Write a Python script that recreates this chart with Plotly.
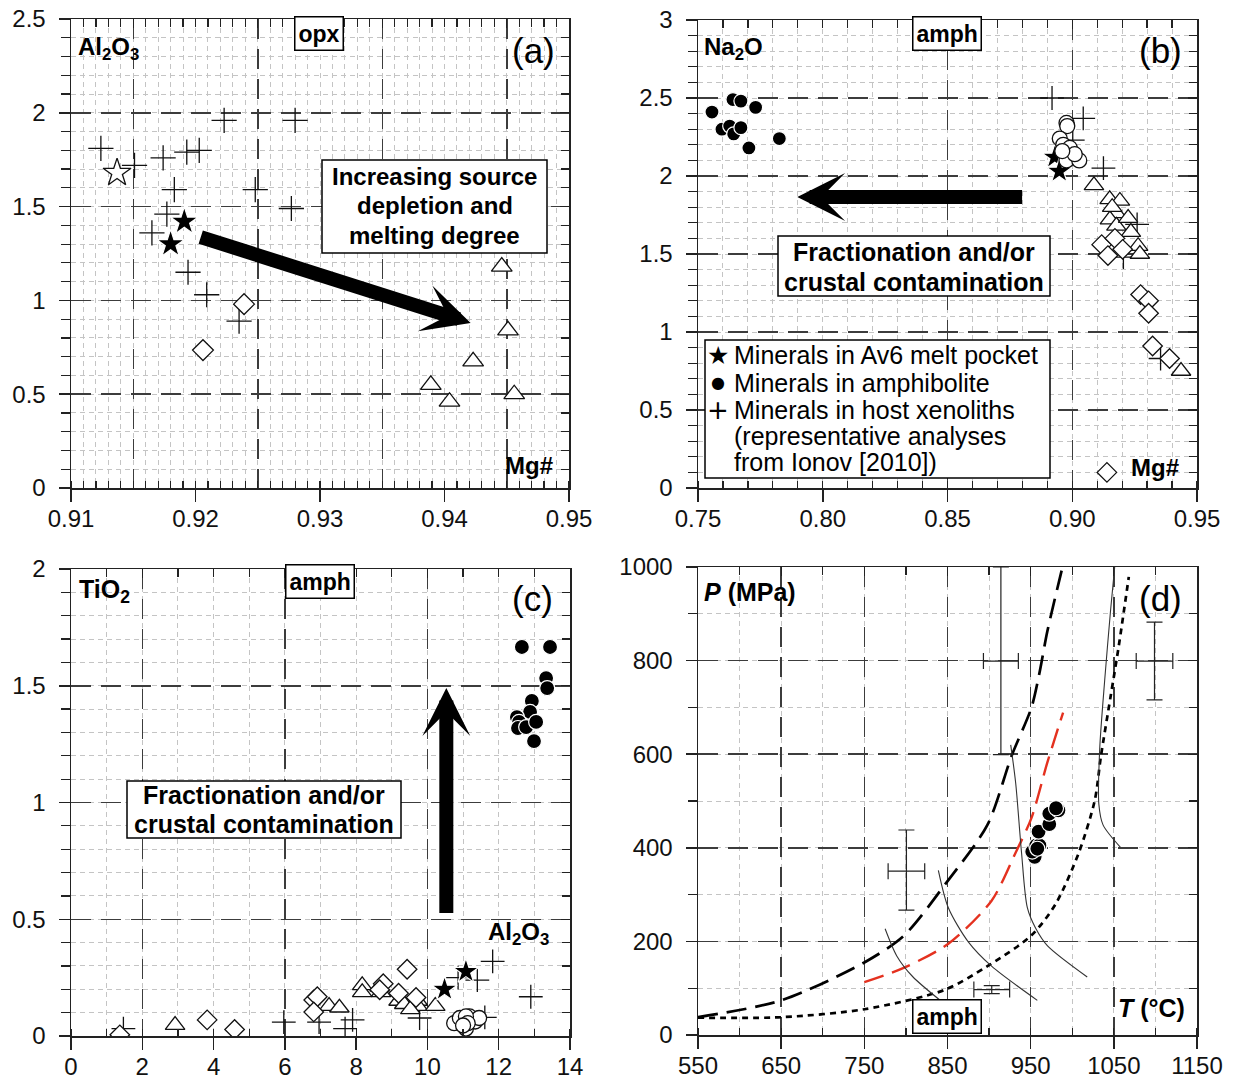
import plotly.graph_objects as go

W, H = 1233, 1082
FONT = "Liberation Sans, Arial, Helvetica, sans-serif"
SYMFONT = "DejaVu Sans, Liberation Sans, sans-serif"
LINE = "#222222"
MAJ_GRID = "#3c3c3c"
MIN_GRID = "#c4c4c4"
MAJ_DASH = "20px,10px"
MIN_DASH = "5px,4px"

# ---------------- data: panel (a) opx, Al2O3 vs Mg# ----------------
a_host_x = [0.9124, 0.9151, 0.9174, 0.9183, 0.9177, 0.9165, 0.9193, 0.9203, 0.9194, 0.9209, 0.9223, 0.9248, 0.9280, 0.9277, 0.9235]
a_host_y = [1.81, 1.72, 1.76, 1.59, 1.46, 1.36, 1.79, 1.80, 1.15, 1.03, 1.96, 1.59, 1.96, 1.49, 0.89]
a_melt_x = [0.9191, 0.9180]
a_melt_y = [1.42, 1.30]
a_ostar_x = [0.9137]
a_ostar_y = [1.68]
a_diam_x = [0.9239, 0.9206]
a_diam_y = [0.98, 0.735]
a_tri_x = [0.9446, 0.9451, 0.9423, 0.9389, 0.9404, 0.9456]
a_tri_y = [1.18, 0.84, 0.675, 0.55, 0.46, 0.50]

# ---------------- data: panel (b) amph, Na2O vs Mg# ----------------
b_amphib_x = [0.7556, 0.7596, 0.7640, 0.7672, 0.7627, 0.7643, 0.7672, 0.7731, 0.7704, 0.7826]
b_amphib_y = [2.41, 2.30, 2.49, 2.48, 2.32, 2.27, 2.31, 2.44, 2.18, 2.24]
b_ocirc_x = [0.8977, 0.8980, 0.8950, 0.8964, 0.8990, 0.8977, 0.9028, 0.9010, 0.8960]
b_ocirc_y = [2.34, 2.32, 2.24, 2.20, 2.18, 2.10, 2.10, 2.14, 2.16]
b_melt_x = [0.8930, 0.8948]
b_melt_y = [2.12, 2.03]
b_host_x = [0.8919, 0.9044, 0.9002, 0.9125, 0.9260, 0.9205, 0.9354]
b_host_y = [2.50, 2.37, 2.23, 2.05, 1.69, 1.48, 0.83]
b_tri_x = [0.9087, 0.9150, 0.9191, 0.9177, 0.9151, 0.9177, 0.9224, 0.9235, 0.9264, 0.9271, 0.9160, 0.9436]
b_tri_y = [1.94, 1.85, 1.84, 1.76, 1.72, 1.68, 1.73, 1.64, 1.55, 1.50, 1.80, 0.75]
b_diam_x = [0.9118, 0.9143, 0.9171, 0.9202, 0.9274, 0.9306, 0.9306, 0.9322, 0.9390, 0.9139]
b_diam_y = [1.56, 1.49, 1.60, 1.53, 1.24, 1.20, 1.12, 0.91, 0.83, 0.10]

# ---------------- data: panel (c) amph, TiO2 vs Al2O3 ----------------
c_amphib_x = [12.65, 13.44, 13.33, 13.36, 12.93, 12.88, 12.51, 12.57, 12.54, 12.77, 12.99, 13.05]
c_amphib_y = [1.666, 1.666, 1.533, 1.49, 1.435, 1.388, 1.366, 1.345, 1.319, 1.323, 1.263, 1.345]
c_ocirc_x = [10.75, 10.91, 11.08, 11.18, 11.34, 11.45, 11.08, 11.13, 11.00]
c_ocirc_y = [0.055, 0.077, 0.032, 0.084, 0.062, 0.077, 0.084, 0.055, 0.045]
c_melt_x = [10.48, 11.08]
c_melt_y = [0.20, 0.276]
c_host_x = [1.47, 5.97, 6.96, 7.69, 7.90, 9.78, 11.40, 11.83, 12.90, 11.61, 10.86]
c_host_y = [0.032, 0.059, 0.059, 0.032, 0.069, 0.077, 0.239, 0.320, 0.168, 0.08, 0.25]
c_diam_x = [1.37, 3.82, 4.59, 6.81, 6.91, 6.81, 8.76, 8.66, 9.43, 9.19, 9.68]
c_diam_y = [0.005, 0.069, 0.028, 0.154, 0.168, 0.103, 0.224, 0.198, 0.286, 0.183, 0.165]
c_tri_x = [2.92, 7.24, 7.53, 8.17, 8.17, 8.66, 9.19, 9.35, 9.73, 9.73, 10.22, 9.52, 8.70]
c_tri_y = [0.047, 0.128, 0.121, 0.217, 0.187, 0.21, 0.150, 0.136, 0.150, 0.128, 0.128, 0.114, 0.187]

# ---------------- data: panel (d) P-T ----------------
d_amphib_T = [954.8, 951.9, 956.7, 960.5, 959.5, 972.4, 972.4, 983.4, 980.5, 958.0]
d_amphib_P = [380.7, 391.8, 405, 405, 434.5, 450.7, 472.8, 480, 484.5, 398]
d_long_T = [550, 650, 750, 798, 848, 898, 927, 951, 960.5, 970, 988]
d_long_P = [38, 74, 155, 213, 324, 449, 596, 700, 773, 862, 998]
d_short_T = [550, 650, 750, 846, 898, 951, 980, 1008, 1027, 1034.5, 1046, 1056, 1068]
d_short_P = [37, 38, 55, 96, 147, 213, 280, 390, 501, 596, 722, 832, 979]
d_red_T = [750, 798, 851, 903, 932, 951, 970, 989]
d_red_P = [113, 144, 195, 287, 390, 464, 582, 689]
d_thin1_T = [775, 789, 808, 844]
d_thin1_P = [227, 169, 125, 70]
d_thin2_T = [839, 851, 875, 903, 958]
d_thin2_P = [352, 272, 199, 147, 74]
d_thin3_T = [926, 932, 939, 946, 956, 970, 1018]
d_thin3_P = [620, 538, 390, 272, 228, 191, 124]
d_thin4_T = [1051, 1046, 1039, 1033, 1032, 1037, 1058]
d_thin4_P = [1000, 906, 758, 611, 493, 449, 401]
d_err_T = [800.6, 914.2, 1098.9, 903.2]
d_err_P = [350, 799, 799, 97]
d_err_dT = [22, 21, 22, 21.5]
d_err_dPplus = [88, 201, 83, 8.6]
d_err_dPminus = [83, 200, 83, 8.6]

# ---------------- tick labels ----------------
a_xticks = [0.91, 0.92, 0.93, 0.94, 0.95]
a_xtext = ["0.91", "0.92", "0.93", "0.94", "0.95"]
a_yticks = [0, 0.5, 1, 1.5, 2, 2.5]
a_ytext = ["0", "0.5", "1", "1.5", "2", "2.5"]
b_xticks = [0.75, 0.80, 0.85, 0.90, 0.95]
b_xtext = ["0.75", "0.80", "0.85", "0.90", "0.95"]
b_yticks = [0, 0.5, 1, 1.5, 2, 2.5, 3]
b_ytext = ["0", "0.5", "1", "1.5", "2", "2.5", "3"]
c_xticks = [0, 2, 4, 6, 8, 10, 12, 14]
c_xtext = ["0", "2", "4", "6", "8", "10", "12", "14"]
c_yticks = [0, 0.5, 1, 1.5, 2]
c_ytext = ["0", "0.5", "1", "1.5", "2"]
d_xticks = [550, 650, 750, 850, 950, 1050, 1150]
d_xtext = ["550", "650", "750", "850", "950", "1050", "1150"]
d_yticks = [0, 200, 400, 600, 800, 1000]
d_ytext = ["0", "200", "400", "600", "800", "1000"]

legend_entries = ["Minerals in Av6 melt pocket", "Minerals in amphibolite", "Minerals in host xenoliths",
                  "(representative analyses", "from Ionov [2010])"]
legend_symbols = ["★", "●", "+", "", ""]


def dom_x(p0, p1):
    return [p0 / W, p1 / W]


def dom_y(top, bottom):
    return [1 - bottom / H, 1 - top / H]


TICKFONT = dict(family=FONT, size=24, color="#111111")


def main_x(domain, rng, vals, texts, mdt, mt0, anchor):
    return dict(domain=domain, range=rng, anchor=anchor, tickmode="array", tickvals=vals, ticktext=texts,
                ticks="outside", ticklen=12, tickwidth=1.5, tickcolor=LINE, automargin=False,
                showline=True, linecolor=LINE, linewidth=1.5, showgrid=False, zeroline=False,
                tickfont=TICKFONT, ticklabelstandoff=-3, fixedrange=True,
                minor=dict(tickmode="linear", tick0=mt0, dtick=mdt, ticks="inside", ticklen=7,
                           tickwidth=1.2, tickcolor=LINE, showgrid=True, gridcolor=MIN_GRID,
                           gridwidth=1, griddash=MIN_DASH))


def main_y(domain, rng, vals, texts, mdt, mt0, anchor):
    return dict(domain=domain, range=rng, anchor=anchor, tickmode="array", tickvals=vals, ticktext=texts,
                ticks="outside", ticklen=11, tickwidth=1.5, tickcolor=LINE, automargin=False,
                showline=True, linecolor=LINE, linewidth=1.5, showgrid=True, gridcolor=MAJ_GRID,
                gridwidth=1.5, griddash=MAJ_DASH, zeroline=False,
                tickfont=TICKFONT, ticklabelstandoff=8, fixedrange=True,
                minor=dict(tickmode="linear", tick0=mt0, dtick=mdt, ticks="outside", ticklen=9,
                           tickwidth=1.2, tickcolor=LINE, showgrid=True, gridcolor=MIN_GRID,
                           gridwidth=1, griddash=MIN_DASH))


def top_x(domain, rng, gridvals, mdt, mt0, overlay, anchor):
    return dict(domain=domain, range=rng, overlaying=overlay, side="top", anchor=anchor,
                tickmode="array", tickvals=gridvals, ticks="inside", ticklen=9, tickwidth=1.2,
                tickcolor=LINE, showticklabels=False, showline=True, linecolor=LINE, linewidth=1.5,
                showgrid=True, gridcolor=MAJ_GRID, gridwidth=1.5, griddash=MAJ_DASH,
                zeroline=False, fixedrange=True, automargin=False,
                minor=dict(tickmode="linear", tick0=mt0, dtick=mdt, ticks="inside", ticklen=8,
                           tickwidth=1.2, tickcolor=LINE, showgrid=False))


def right_y(domain, rng, vals, mdt, mt0, overlay, anchor):
    return dict(domain=domain, range=rng, overlaying=overlay, side="right", anchor=anchor,
                tickmode="array", tickvals=vals, ticks="inside", ticklen=9, tickwidth=1.2,
                tickcolor=LINE, showticklabels=False, showline=True, linecolor=LINE, linewidth=1.5,
                showgrid=False, zeroline=False, fixedrange=True, automargin=False,
                minor=dict(tickmode="linear", tick0=mt0, dtick=mdt, ticks="inside", ticklen=8,
                           tickwidth=1.2, tickcolor=LINE, showgrid=False))


dA_x, dA_y = dom_x(71, 569), dom_y(19, 488)
dB_x, dB_y = dom_x(698, 1197), dom_y(20, 488)
dC_x, dC_y = dom_x(71, 570), dom_y(569, 1036)
dD_x, dD_y = dom_x(698, 1197), dom_y(567, 1035)

layout_axes = dict(
    xaxis=main_x(dA_x, [0.91, 0.95], a_xticks, a_xtext, 0.001, 0.91, "y"),
    yaxis=main_y(dA_y, [0, 2.5], a_yticks, a_ytext, 0.1, 0, "x"),
    xaxis5=top_x(dA_x, [0.91, 0.95], [0.915, 0.925, 0.935, 0.945], 0.001, 0.91, "x", "y"),
    yaxis5=right_y(dA_y, [0, 2.5], a_yticks, 0.1, 0, "y", "x"),

    xaxis2=main_x(dB_x, [0.75, 0.95], b_xticks, b_xtext, 0.01, 0.75, "y2"),
    yaxis2=main_y(dB_y, [0, 3], b_yticks, b_ytext, 0.1, 0, "x2"),
    xaxis6=top_x(dB_x, [0.75, 0.95], [0.85, 0.90], 0.01, 0.75, "x2", "y2"),
    yaxis6=right_y(dB_y, [0, 3], b_yticks, 0.1, 0, "y2", "x2"),

    xaxis3=main_x(dC_x, [0, 14], c_xticks, c_xtext, 1, 0, "y3"),
    yaxis3=main_y(dC_y, [0, 2], c_yticks, c_ytext, 0.1, 0, "x3"),
    xaxis7=top_x(dC_x, [0, 14], [2, 6, 10], 1, 0, "x3", "y3"),
    yaxis7=right_y(dC_y, [0, 2], c_yticks, 0.1, 0, "y3", "x3"),

    xaxis4=main_x(dD_x, [550, 1150], d_xticks, d_xtext, 50, 550, "y4"),
    yaxis4=main_y(dD_y, [0, 1000], d_yticks, d_ytext, 100, 0, "x4"),
    xaxis8=top_x(dD_x, [550, 1150], [650, 750, 850, 950, 1050], 50, 550, "x4", "y4"),
    yaxis8=right_y(dD_y, [0, 1000], d_yticks, 100, 0, "y4", "x4"),
)

fig = go.Figure()

# empty traces so overlay (frame) axes exist
for xa, ya in [("x5", "y5"), ("x6", "y6"), ("x7", "y7"), ("x8", "y8")]:
    fig.add_trace(go.Scatter(x=[None], y=[None], xaxis=xa, yaxis=ya, mode="markers",
                             showlegend=False, hoverinfo="skip"))


def cross(x, y, xa, ya, size=17):
    return go.Scatter(x=x, y=y, xaxis=xa, yaxis=ya, mode="markers", showlegend=False, hoverinfo="skip",
                      marker=dict(symbol="cross-thin", size=size, line=dict(color="#111", width=1.3)))


def openm(x, y, xa, ya, symbol, size):
    return go.Scatter(x=x, y=y, xaxis=xa, yaxis=ya, mode="markers", showlegend=False, hoverinfo="skip",
                      marker=dict(symbol=symbol, size=size, color="white", line=dict(color="#111", width=1.3)))


def filled(x, y, xa, ya, symbol, size):
    return go.Scatter(x=x, y=y, xaxis=xa, yaxis=ya, mode="markers", showlegend=False, hoverinfo="skip",
                      marker=dict(symbol=symbol, size=size, color="black", line=dict(color="white", width=1.2)))


# panel (a)
fig.add_trace(cross(a_host_x, a_host_y, "x", "y", 18))
fig.add_trace(openm(a_diam_x, a_diam_y, "x", "y", "diamond", 16))
fig.add_trace(openm(a_tri_x, a_tri_y, "x", "y", "triangle-up", 18))
fig.add_trace(openm(a_ostar_x, a_ostar_y, "x", "y", "star", 21))
fig.add_trace(filled(a_melt_x, a_melt_y, "x", "y", "star", 21))

# panel (b)
fig.add_trace(cross(b_host_x, b_host_y, "x2", "y2"))
fig.add_trace(openm(b_tri_x, b_tri_y, "x2", "y2", "triangle-up", 17))
fig.add_trace(openm(b_diam_x, b_diam_y, "x2", "y2", "diamond", 15))
fig.add_trace(filled(b_melt_x, b_melt_y, "x2", "y2", "star", 19))
fig.add_trace(openm(b_ocirc_x, b_ocirc_y, "x2", "y2", "circle", 15))
fig.add_trace(filled(b_amphib_x, b_amphib_y, "x2", "y2", "circle", 14))

# panel (c)
fig.add_trace(cross(c_host_x, c_host_y, "x3", "y3"))
fig.add_trace(openm(c_tri_x, c_tri_y, "x3", "y3", "triangle-up", 17))
fig.add_trace(openm(c_diam_x, c_diam_y, "x3", "y3", "diamond", 15))
fig.add_trace(openm(c_ocirc_x, c_ocirc_y, "x3", "y3", "circle", 15))
fig.add_trace(filled(c_melt_x, c_melt_y, "x3", "y3", "star", 19))
fig.add_trace(filled(c_amphib_x, c_amphib_y, "x3", "y3", "circle", 15))


# panel (d) curves
def curve(x, y, color, width, dash):
    return go.Scatter(x=x, y=y, xaxis="x4", yaxis="y4", mode="lines", showlegend=False, hoverinfo="skip",
                      line=dict(color=color, width=width, dash=dash, shape="spline", smoothing=0.8))


fig.add_trace(curve(d_long_T, d_long_P, "black", 2.7, "20px,9px"))
fig.add_trace(curve(d_short_T, d_short_P, "black", 2.7, "6px,5px"))
fig.add_trace(curve(d_red_T, d_red_P, "#e4311f", 2.4, "20px,9px"))
for tx, ty in [(d_thin1_T, d_thin1_P), (d_thin2_T, d_thin2_P), (d_thin3_T, d_thin3_P), (d_thin4_T, d_thin4_P)]:
    fig.add_trace(curve(tx, ty, "#333333", 1.1, "solid"))

fig.add_trace(go.Scatter(x=d_err_T, y=d_err_P, xaxis="x4", yaxis="y4", mode="markers", showlegend=False,
                         hoverinfo="skip", marker=dict(size=1, color="rgba(0,0,0,0)"),
                         error_x=dict(type="data", array=d_err_dT, color="#222", thickness=1.2, width=8),
                         error_y=dict(type="data", array=d_err_dPplus, arrayminus=d_err_dPminus,
                                      color="#222", thickness=1.2, width=8)))
fig.add_trace(filled(d_amphib_T, d_amphib_P, "x4", "y4", "circle", 15))


# ---------------- annotations ----------------
def pp(px, py):
    return px / W, 1 - py / H


ann = []
shapes = []


def label(text, px, py, size=24, xanchor="center", box=False, family=FONT):
    x, y = pp(px, py)
    d = dict(text=text, x=x, y=y, xref="paper", yref="paper", showarrow=False, xanchor=xanchor,
             yanchor="middle", align="left" if xanchor == "left" else "center",
             font=dict(family=family, size=size, color="black"))
    if box:
        d.update(bordercolor="black", borderwidth=1.5, borderpad=3, bgcolor="white")
    ann.append(d)


def box(x0, y0, x1, y1):
    shapes.append(dict(type="rect", xref="paper", yref="paper", x0=x0 / W, x1=x1 / W,
                       y0=1 - y1 / H, y1=1 - y0 / H, line=dict(color="black", width=1.5),
                       fillcolor="white", layer="above"))


# panel (a)
label("<b>Al<sub>2</sub>O<sub>3</sub></b>", 76, 48, 24, "left")
label("<b>opx</b>", 319, 34, 23, box=True)
label("(a)", 533, 50, 35)
label("<b>Mg#</b>", 529, 465, 24)
box(322, 160, 547, 253)
for t, yy in zip(["Increasing source", "depletion and", "melting degree"], [177, 206, 236]):
    label("<b>" + t + "</b>", 434.5, yy, 24)

# panel (b)
label("<b>Na<sub>2</sub>O</b>", 702, 48, 24, "left")
label("<b>amph</b>", 947, 33, 23, box=True)
label("(b)", 1160, 50, 35)
label("<b>Mg#</b>", 1155, 467, 24)
box(778, 236, 1050, 296)
for t, yy in zip(["Fractionation and/or", "crustal contamination"], [252, 282]):
    label("<b>" + t + "</b>", 914, yy, 25)
box(705, 340, 1050, 478)
for sym, t, yy in zip(legend_symbols, legend_entries, [355, 383, 410, 436, 462]):
    label(t, 732, yy, 25, "left")
    if sym:
        label(sym, 718, yy, {"★": 25, "●": 16, "+": 26}[sym], family=SYMFONT)

# panel (c)
label("<b>TiO<sub>2</sub></b>", 77, 591, 25, "left")
label("<b>amph</b>", 320, 581, 23, box=True)
label("(c)", 532, 598, 35)
label("<b>Al<sub>2</sub>O<sub>3</sub></b>", 518, 933, 24)
box(127, 781, 401, 838)
for t, yy in zip(["Fractionation and/or", "crustal contamination"], [795, 824]):
    label("<b>" + t + "</b>", 264, yy, 25)

# panel (d)
label("<b><i>P</i> (MPa)</b>", 702, 592, 25, "left")
label("(d)", 1160, 598, 35)
label("<b><i>T</i> (°C)</b>", 1151, 1008, 25)
label("<b>amph</b>", 947, 1016, 23, box=True)

# thick arrows (data coordinates)
arrows = [
    ("x", "y", 0.9421, 0.88, 0.9203, 1.34),
    ("x2", "y2", 0.7898, 1.865, 0.8805, 1.865),
    ("x3", "y3", 10.53, 1.49, 10.53, 0.52),
]
for xr, yr, x1, y1, x0, y0 in arrows:
    ann.append(dict(text="", x=x1, y=y1, ax=x0, ay=y0, xref=xr, yref=yr, axref=xr, ayref=yr,
                    showarrow=True, arrowhead=3, arrowsize=0.57, arrowwidth=14, arrowcolor="black",
                    standoff=0, startstandoff=0))

fig.update_layout(
    width=W, height=H, margin=dict(l=0, r=0, t=0, b=0, autoexpand=False),
    paper_bgcolor="white", plot_bgcolor="white", showlegend=False, hovermode=False,
    font=dict(family=FONT, color="black"),
    annotations=ann, shapes=shapes,
    **layout_axes,
)

fig.write_html("out.html", config=dict(displayModeBar=False, staticPlot=True),
               post_script="document.body.style.margin='0';")
